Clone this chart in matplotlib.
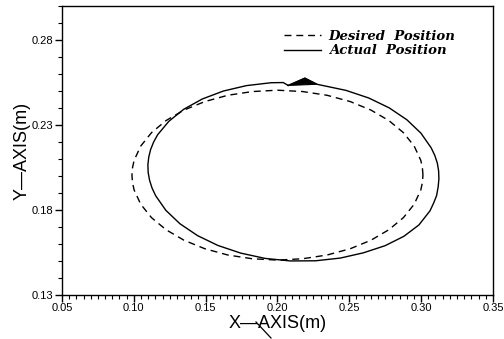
import matplotlib
matplotlib.use("Agg")
import matplotlib.pyplot as plt
from matplotlib.ticker import MultipleLocator, FixedLocator
from matplotlib.lines import Line2D

# Desired trajectory (dashed)
desired_x = [0.3013, 0.3009, 0.2998, 0.2952, 0.2877, 0.2776, 0.2651, 0.2507, 0.2346,
             0.2176, 0.2000, 0.1824, 0.1654, 0.1494, 0.1349, 0.1224, 0.1123, 0.1048,
             0.1002, 0.0991, 0.0987, 0.0991, 0.1002, 0.1048, 0.1123, 0.1224, 0.1349,
             0.1494, 0.1654, 0.1824, 0.2000, 0.2176, 0.2346, 0.2507, 0.2651, 0.2776,
             0.2877, 0.2952, 0.2998, 0.3009, 0.3013]
desired_y = [0.2005, 0.2049, 0.2092, 0.2176, 0.2255, 0.2326, 0.2388, 0.2438, 0.2475,
             0.2497, 0.2505, 0.2497, 0.2475, 0.2438, 0.2388, 0.2326, 0.2255, 0.2176,
             0.2092, 0.2049, 0.2005, 0.1961, 0.1918, 0.1834, 0.1755, 0.1684, 0.1622,
             0.1572, 0.1535, 0.1513, 0.1505, 0.1513, 0.1535, 0.1572, 0.1622, 0.1684,
             0.1755, 0.1834, 0.1918, 0.1961, 0.2005]

# Actual trajectory (solid)
actual_x = [0.2075, 0.2191, 0.2275, 0.2308, 0.2477, 0.2636, 0.2778, 0.2901, 0.2999,
            0.3070, 0.3095, 0.3113, 0.3122, 0.3124, 0.3119, 0.3108, 0.3088, 0.3062,
            0.2985, 0.2880, 0.2750, 0.2599, 0.2438, 0.2266, 0.2090, 0.1914, 0.1745,
            0.1586, 0.1444, 0.1321, 0.1223, 0.1152, 0.1127, 0.1110, 0.1100, 0.1098,
            0.1104, 0.1117, 0.1138, 0.1166, 0.1244, 0.1348, 0.1476, 0.1623, 0.1784,
            0.1956, 0.2040, 0.2075]
actual_y = [0.2533, 0.2576, 0.2540, 0.2534, 0.2504, 0.2459, 0.2401, 0.2331, 0.2252,
            0.2166, 0.2122, 0.2076, 0.2030, 0.1984, 0.1937, 0.1885, 0.1842, 0.1795,
            0.1712, 0.1645, 0.1590, 0.1548, 0.1517, 0.1501, 0.1500, 0.1515, 0.1546,
            0.1591, 0.1649, 0.1719, 0.1798, 0.1884, 0.1929, 0.1974, 0.2020, 0.2066,
            0.2111, 0.2156, 0.2200, 0.2243, 0.2322, 0.2393, 0.2453, 0.2500, 0.2532,
            0.2549, 0.2550, 0.2533]

# small transient spike of the actual trajectory near the top
spike_x = [0.2075, 0.2191, 0.2275]
spike_y = [0.2533, 0.2576, 0.2540]

x_ticks = [0.05, 0.10, 0.15, 0.20, 0.25, 0.30, 0.35]
x_tick_labels = ["0.05", "0.10", "0.15", "0.20", "0.25", "0.30", "0.35"]
y_ticks = [0.13, 0.18, 0.23, 0.28]
y_tick_labels = ["0.13", "0.18", "0.23", "0.28"]
legend_labels = ["Desired  Position", "Actual  Position"]

fig = plt.figure(figsize=(5.04, 3.39), dpi=100)
ax = fig.add_axes([0.123, 0.130, 0.855, 0.852])

ax.plot(desired_x, desired_y, color="black", lw=1.0, linestyle=(0, (5, 3.5)),
        label=legend_labels[0])
ax.plot(actual_x, actual_y, color="black", lw=1.0, linestyle="-",
        solid_joinstyle="round", label=legend_labels[1])
ax.fill(spike_x, spike_y, color="black", lw=0.8)

ax.set_xlim(0.05, 0.35)
ax.set_ylim(0.13, 0.30)
ax.xaxis.set_major_locator(FixedLocator(x_ticks))
ax.set_xticklabels(x_tick_labels)
ax.yaxis.set_major_locator(FixedLocator(y_ticks))
ax.set_yticklabels(y_tick_labels)
ax.xaxis.set_minor_locator(MultipleLocator(0.005))
ax.yaxis.set_minor_locator(MultipleLocator(0.01))

ax.tick_params(which="major", direction="out", length=5, width=1.0,
               labelsize=8, pad=1, top=False, right=False)
ax.tick_params(which="minor", direction="out", length=3, width=0.8,
               top=False, right=False)
for lab in ax.get_xticklabels() + ax.get_yticklabels():
    lab.set_family("Liberation Sans")

for s in ax.spines.values():
    s.set_linewidth(1.0)

ax.set_xlabel("X\u2014AXIS(m)", fontsize=13, family="Liberation Sans", labelpad=1)
ax.set_ylabel("Y\u2014AXIS(m)", fontsize=13, family="Liberation Sans", labelpad=1)

leg = ax.legend(loc="upper left", bbox_to_anchor=(0.515, 0.917), frameon=False,
                handlelength=2.8, handletextpad=0.6, labelspacing=0.1,
                borderpad=0, borderaxespad=0,
                prop={"family": "DejaVu Serif", "weight": "bold",
                      "style": "italic", "size": 9.5})

# stray pen stroke under the x label
fig.add_artist(Line2D([256 / 504, 271 / 504], [1 - 322 / 339, 1 - 338 / 339],
                      transform=fig.transFigure, color="black", lw=0.9))

fig.savefig("out.png", dpi=100)
